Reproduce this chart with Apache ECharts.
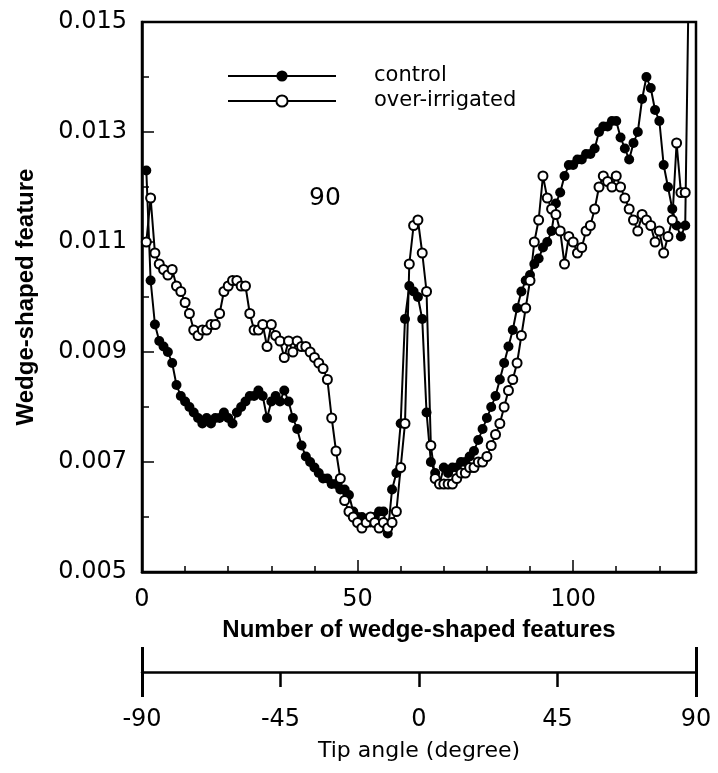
<!DOCTYPE html>
<html>
<head>
<meta charset="utf-8">
<script src="https://cdn.jsdelivr.net/npm/echarts@6/dist/echarts.min.js"></script>
<style>
  html, body { margin: 0; padding: 0; background: #ffffff; }
  #chart { width: 718px; height: 773px; }
</style>
</head>
<body>
<div id="chart"></div>
<script>
// Wedge-shaped feature value for feature numbers 1, 2, 3, ...
const control = [
  0.0123, 0.0103, 0.0095, 0.0092, 0.0091, 0.0090, 0.0088, 0.0084, 0.0082, 0.0081,
  0.0080, 0.0079, 0.0078, 0.0077, 0.0078, 0.0077, 0.0078, 0.0078, 0.0079, 0.0078,
  0.0077, 0.0079, 0.0080, 0.0081, 0.0082, 0.0082, 0.0083, 0.0082, 0.0078, 0.0081,
  0.0082, 0.0081, 0.0083, 0.0081, 0.0078, 0.0076, 0.0073, 0.0071, 0.0070, 0.0069,
  0.0068, 0.0067, 0.0067, 0.0066, 0.0066, 0.0065, 0.0065, 0.0064, 0.0061, 0.0060,
  0.0060, 0.0059, 0.0059, 0.0060, 0.0061, 0.0061, 0.0057, 0.0065, 0.0068, 0.0077,
  0.0096, 0.0102, 0.0101, 0.0100, 0.0096, 0.0079, 0.0070, 0.0068, 0.0066, 0.0069,
  0.0068, 0.0069, 0.0069, 0.0070, 0.0070, 0.0071, 0.0072, 0.0074, 0.0076, 0.0078,
  0.0080, 0.0082, 0.0085, 0.0088, 0.0091, 0.0094, 0.0098, 0.0101, 0.0103, 0.0104,
  0.0106, 0.0107, 0.0109, 0.0110, 0.0112, 0.0117, 0.0119, 0.0122, 0.0124, 0.0124,
  0.0125, 0.0125, 0.0126, 0.0126, 0.0127, 0.0130, 0.0131, 0.0131, 0.0132, 0.0132,
  0.0129, 0.0127, 0.0125, 0.0128, 0.0130, 0.0136, 0.0140, 0.0138, 0.0134, 0.0132,
  0.0124, 0.0120, 0.0116, 0.0113, 0.0111, 0.0113, 0.0168
];
const overIrrigated = [
  0.0110, 0.0118, 0.0108, 0.0106, 0.0105, 0.0104, 0.0105, 0.0102, 0.0101, 0.0099,
  0.0097, 0.0094, 0.0093, 0.0094, 0.0094, 0.0095, 0.0095, 0.0097, 0.0101, 0.0102,
  0.0103, 0.0103, 0.0102, 0.0102, 0.0097, 0.0094, 0.0094, 0.0095, 0.0091, 0.0095,
  0.0093, 0.0092, 0.0089, 0.0092, 0.0090, 0.0092, 0.0091, 0.0091, 0.0090, 0.0089,
  0.0088, 0.0087, 0.0085, 0.0078, 0.0072, 0.0067, 0.0063, 0.0061, 0.0060, 0.0059,
  0.0058, 0.0059, 0.0060, 0.0059, 0.0058, 0.0059, 0.0058, 0.0059, 0.0061, 0.0069,
  0.0077, 0.0106, 0.0113, 0.0114, 0.0108, 0.0101, 0.0073, 0.0067, 0.0066, 0.0066,
  0.0066, 0.0066, 0.0067, 0.0068, 0.0068, 0.0069, 0.0069, 0.0070, 0.0070, 0.0071,
  0.0073, 0.0075, 0.0077, 0.0080, 0.0083, 0.0085, 0.0088, 0.0093, 0.0098, 0.0103,
  0.0110, 0.0114, 0.0122, 0.0118, 0.0116, 0.0115, 0.0112, 0.0106, 0.0111, 0.0110,
  0.0108, 0.0109, 0.0112, 0.0113, 0.0116, 0.0120, 0.0122, 0.0121, 0.0120, 0.0122,
  0.0120, 0.0118, 0.0116, 0.0114, 0.0112, 0.0115, 0.0114, 0.0113, 0.0110, 0.0112,
  0.0108, 0.0111, 0.0114, 0.0128, 0.0119, 0.0119
];
const seriesNames = ['control', 'over-irrigated'];
const yTicks = [0.005, 0.015, 0.002];      // min, max, label step
const featureRange = [0, 128.5, 50];       // min, max, label step
const tipAngleTicks = [-90, 90, 45];       // min, max, step
const annotation = '90';

const toPoints = arr => arr.map((v, i) => [i + 1, v]);

const regular = 'DejaVu Sans';
const bold = 'Liberation Sans';
const black = '#000000';

const chart = echarts.init(document.getElementById('chart'), null, { renderer: 'canvas' });

const axisLineStyle = { color: black, width: 2.5 };

chart.setOption({
  animation: false,
  backgroundColor: '#ffffff',
  grid: {
    left: 142, right: 22, top: 22, bottom: 201,
    show: true, borderColor: black, borderWidth: 2.5, backgroundColor: 'transparent'
  },
  legend: {
    left: 222, top: 59, orient: 'vertical',
    itemWidth: 108, itemHeight: 14, itemGap: 1,
    data: seriesNames,
    textStyle: { fontFamily: regular, fontSize: 21, color: black, padding: [0, 0, 0, 33], lineHeight: 24 },
    selectedMode: false
  },
  xAxis: [
    {
      // feature count axis with minor ticks every 10
      type: 'value', position: 'bottom',
      min: featureRange[0], max: featureRange[1], interval: 10,
      axisLine: { show: true, lineStyle: axisLineStyle },
      axisTick: { show: true, inside: true, length: 6, lineStyle: { color: black, width: 1.5 } },
      axisLabel: {
        margin: 16, fontFamily: regular, fontSize: 24, color: black,
        formatter: v => (v % featureRange[2] === 0 ? String(v) : '')
      },
      splitLine: { show: false },
      name: 'Number of wedge-shaped features', nameLocation: 'middle', nameGap: 46,
      nameTextStyle: { fontFamily: bold, fontWeight: 'bold', fontSize: 24, color: black }
    },
    {
      // major ticks at 50 and 100
      type: 'value', position: 'bottom',
      min: featureRange[0], max: featureRange[1], interval: featureRange[2],
      axisLine: { show: false },
      axisTick: { show: true, inside: true, length: 12, lineStyle: { color: black, width: 1.5 } },
      axisLabel: { show: false },
      splitLine: { show: false }
    },
    {
      // tip angle axis below the plot
      type: 'value', position: 'bottom', offset: 100,
      min: tipAngleTicks[0], max: tipAngleTicks[1], interval: tipAngleTicks[2],
      axisLine: { show: true, lineStyle: axisLineStyle },
      axisTick: { show: true, inside: false, length: 15, lineStyle: { color: black, width: 2.5 } },
      axisLabel: { margin: 36, fontFamily: regular, fontSize: 24, color: black },
      splitLine: { show: false },
      name: 'Tip angle (degree)', nameLocation: 'middle', nameGap: 68,
      nameTextStyle: { fontFamily: regular, fontSize: 22, color: black }
    },
    {
      // tall end ticks of the tip angle axis (upper half)
      type: 'value', position: 'bottom', offset: 100,
      min: tipAngleTicks[0], max: tipAngleTicks[1], interval: tipAngleTicks[1] - tipAngleTicks[0],
      axisLine: { show: false },
      axisTick: { show: true, inside: true, length: 25, lineStyle: { color: black, width: 3 } },
      axisLabel: { show: false },
      splitLine: { show: false }
    },
    {
      // tall end ticks of the tip angle axis (lower half)
      type: 'value', position: 'bottom', offset: 100,
      min: tipAngleTicks[0], max: tipAngleTicks[1], interval: tipAngleTicks[1] - tipAngleTicks[0],
      axisLine: { show: false },
      axisTick: { show: true, inside: false, length: 25, lineStyle: { color: black, width: 3 } },
      axisLabel: { show: false },
      splitLine: { show: false }
    }
  ],
  yAxis: {
    type: 'value',
    min: yTicks[0], max: yTicks[1], interval: yTicks[2],
    axisLine: { show: true, lineStyle: axisLineStyle },
    axisTick: { show: true, inside: true, length: 12, lineStyle: { color: black, width: 1.5 } },
    minorTick: { show: true, splitNumber: 2, length: 7, lineStyle: { color: black, width: 1.5 } },
    axisLabel: {
      margin: 15, fontFamily: regular, fontSize: 24, color: black,
      formatter: v => v.toFixed(3)
    },
    splitLine: { show: false },
    name: 'Wedge-shaped feature', nameLocation: 'middle', nameGap: 104,
    nameTextStyle: { fontFamily: bold, fontWeight: 'bold', fontSize: 24, color: black }
  },
  graphic: [
    {
      type: 'text', left: 309, top: 186,
      style: { text: annotation, font: '25px "DejaVu Sans"', fill: black }
    }
  ],
  series: [
    {
      name: seriesNames[0], type: 'line', xAxisIndex: 0,
      data: toPoints(control),
      symbol: 'circle', symbolSize: 10, showAllSymbol: true,
      lineStyle: { color: black, width: 2 },
      itemStyle: { color: black, borderColor: black, borderWidth: 0 },
      z: 2
    },
    {
      name: seriesNames[1], type: 'line', xAxisIndex: 0,
      data: toPoints(overIrrigated),
      symbol: 'circle', symbolSize: 9, showAllSymbol: true,
      lineStyle: { color: black, width: 2 },
      itemStyle: { color: '#ffffff', borderColor: black, borderWidth: 2 },
      z: 3
    }
  ]
});
</script>
</body>
</html>
